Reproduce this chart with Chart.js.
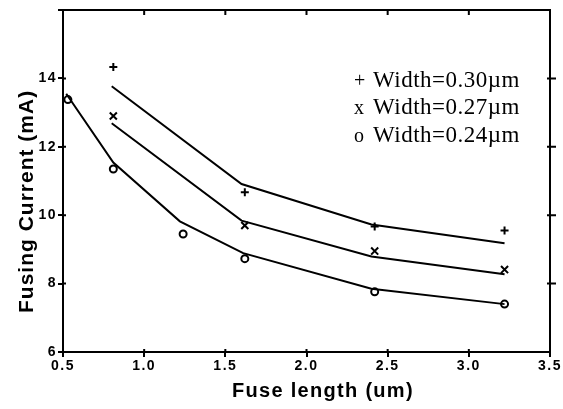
<!DOCTYPE html>
<html>
<head>
<meta charset="utf-8">
<script src="https://cdn.jsdelivr.net/npm/chart.js@4.4.1/dist/chart.umd.min.js"></script>
<style>
  html, body { margin: 0; padding: 0; background: #fff; }
  #wrap { width: 563px; height: 409px; position: relative; }
</style>
</head>
<body>
<div id="wrap"><canvas id="c"></canvas></div>
<script>
// Fitted curves (lines) and measured points (markers) per fuse width
const fitX030 = [0.80, 1.60, 2.40, 3.22];
const fit030 = [13.77, 10.91, 9.73, 9.18];
const fitX027 = [0.80, 1.60, 2.40, 3.22];
const fit027 = [12.69, 9.84, 8.79, 8.27];
const fitX024 = [0.52, 0.81, 1.22, 1.61, 2.40, 3.22];
const fit024 = [13.55, 11.54, 9.82, 8.89, 7.85, 7.40];

const measX030 = [0.81, 1.62, 2.42, 3.22];
const meas030 = [14.33, 10.67, 9.67, 9.55];
const measX027 = [0.81, 1.62, 2.42, 3.22];
const meas027 = [12.90, 9.70, 8.95, 8.41];
const measX024 = [0.53, 0.81, 1.24, 1.62, 2.42, 3.22];
const meas024 = [13.38, 11.35, 9.45, 8.73, 7.76, 7.40];

const legendSymbols = ["+", "x", "o"];
const legendLabels = ["Width=0.30\u00b5m", "Width=0.27\u00b5m", "Width=0.24\u00b5m"];
const xTitle = "Fuse length (um)";
const yTitle = "Fusing Current (mA)";
const xInnerTicks = [1.0, 1.5, 2.0, 2.5, 3.0];
const yInnerTicks = [8, 10, 12, 14];

const SANS = "'Liberation Sans', Arial, sans-serif";
const SERIF = "'Liberation Serif', 'Times New Roman', serif";

const pts = (xs, ys) => xs.map((x, i) => ({ x, y: ys[i] }));

function lineSet(xs, ys) {
  return { data: pts(xs, ys), showLine: true, pointRadius: 0, borderColor: "#000", borderWidth: 2, tension: 0 };
}
function markSet(xs, ys, style, r) {
  return { data: pts(xs, ys), showLine: false, pointStyle: style, pointRadius: r,
    borderColor: "#000", backgroundColor: "rgba(0,0,0,0)", pointBorderWidth: 2 };
}

// inward tick marks, top/right ticks, axis titles and the text legend
const decor = {
  id: "decor",
  beforeDraw(chart) { chart.ctx.letterSpacing = "1.5px"; },
  afterDraw(chart) {
    const { ctx, chartArea: a, scales } = chart;
    ctx.save();
    ctx.letterSpacing = "0px";
    ctx.strokeStyle = "#000";
    ctx.lineWidth = 2;
    ctx.beginPath();
    for (const v of xInnerTicks) {
      const px = scales.x.getPixelForValue(v);
      ctx.moveTo(px, a.top); ctx.lineTo(px, a.top + 5);
      ctx.moveTo(px, a.bottom); ctx.lineTo(px, a.bottom - 3);
    }
    for (const v of yInnerTicks) {
      const py = scales.y.getPixelForValue(v);
      ctx.moveTo(a.left, py); ctx.lineTo(a.left + 3, py);
      ctx.moveTo(a.right - 3, py); ctx.lineTo(a.right + 6, py);
    }
    ctx.stroke();

    ctx.fillStyle = "#000";
    ctx.font = "bold 20px " + SANS;
    ctx.letterSpacing = "1.3px";
    ctx.textAlign = "left";
    ctx.textBaseline = "alphabetic";
    ctx.fillText(xTitle, 232, 397);

    ctx.save();
    ctx.translate(33, 313);
    ctx.rotate(-Math.PI / 2);
    ctx.font = "bold 21px " + SANS;
    ctx.letterSpacing = "1px";
    ctx.fillText(yTitle, 0, 0);
    ctx.restore();

    legendLabels.forEach((t, i) => {
      const y = 86.5 + i * 27.5;
      ctx.letterSpacing = "0px";
      ctx.font = "20px " + SERIF;
      ctx.fillText(legendSymbols[i], 354, y);
      ctx.letterSpacing = "0.5px";
      ctx.font = "23px " + SERIF;
      ctx.fillText(t, 373, y);
    });
    ctx.restore();
  },
};

const tickFont = { family: SANS, size: 14, weight: "bold" };
const axisGrid = { display: true, drawOnChartArea: false, drawTicks: true, tickLength: 5, color: "#000", lineWidth: 2 };
const axisBorder = { display: true, color: "#000", width: 2 };

new Chart(document.getElementById("c"), {
  type: "scatter",
  data: {
    datasets: [
      lineSet(fitX030, fit030),
      lineSet(fitX027, fit027),
      lineSet(fitX024, fit024),
      markSet(measX030, meas030, "cross", 4),
      markSet(measX027, meas027, "crossRot", 5),
      markSet(measX024, meas024, "circle", 3.5),
    ],
  },
  options: {
    responsive: true,
    maintainAspectRatio: false,
    animation: false,
    layout: { padding: 0 },
    plugins: { legend: { display: false }, tooltip: { enabled: false } },
    scales: {
      x: {
        type: "linear", position: "bottom", min: 0.5, max: 3.5,
        ticks: { stepSize: 0.5, color: "#000", font: tickFont, padding: 1, maxRotation: 0,
          callback: (v) => v.toFixed(1) },
        grid: axisGrid, border: axisBorder,
        afterFit: (s) => { s.height = 57; },
      },
      y: {
        type: "linear", position: "left", min: 6, max: 16,
        ticks: { stepSize: 2, color: "#000", font: tickFont, padding: 1,
          callback: (v) => (v === 16 ? "" : v) },
        grid: axisGrid, border: axisBorder,
        afterFit: (s) => { s.width = 63; },
      },
      x2: {
        type: "linear", axis: "x", position: "top", min: 0.5, max: 3.5,
        ticks: { display: false }, grid: { display: false }, border: axisBorder,
        afterFit: (s) => { s.height = 10; },
      },
      y2: {
        type: "linear", axis: "y", position: "right", min: 6, max: 16,
        ticks: { display: false }, grid: { display: false }, border: axisBorder,
        afterFit: (s) => { s.width = 13; },
      },
    },
  },
  plugins: [decor],
});
</script>
</body>
</html>
